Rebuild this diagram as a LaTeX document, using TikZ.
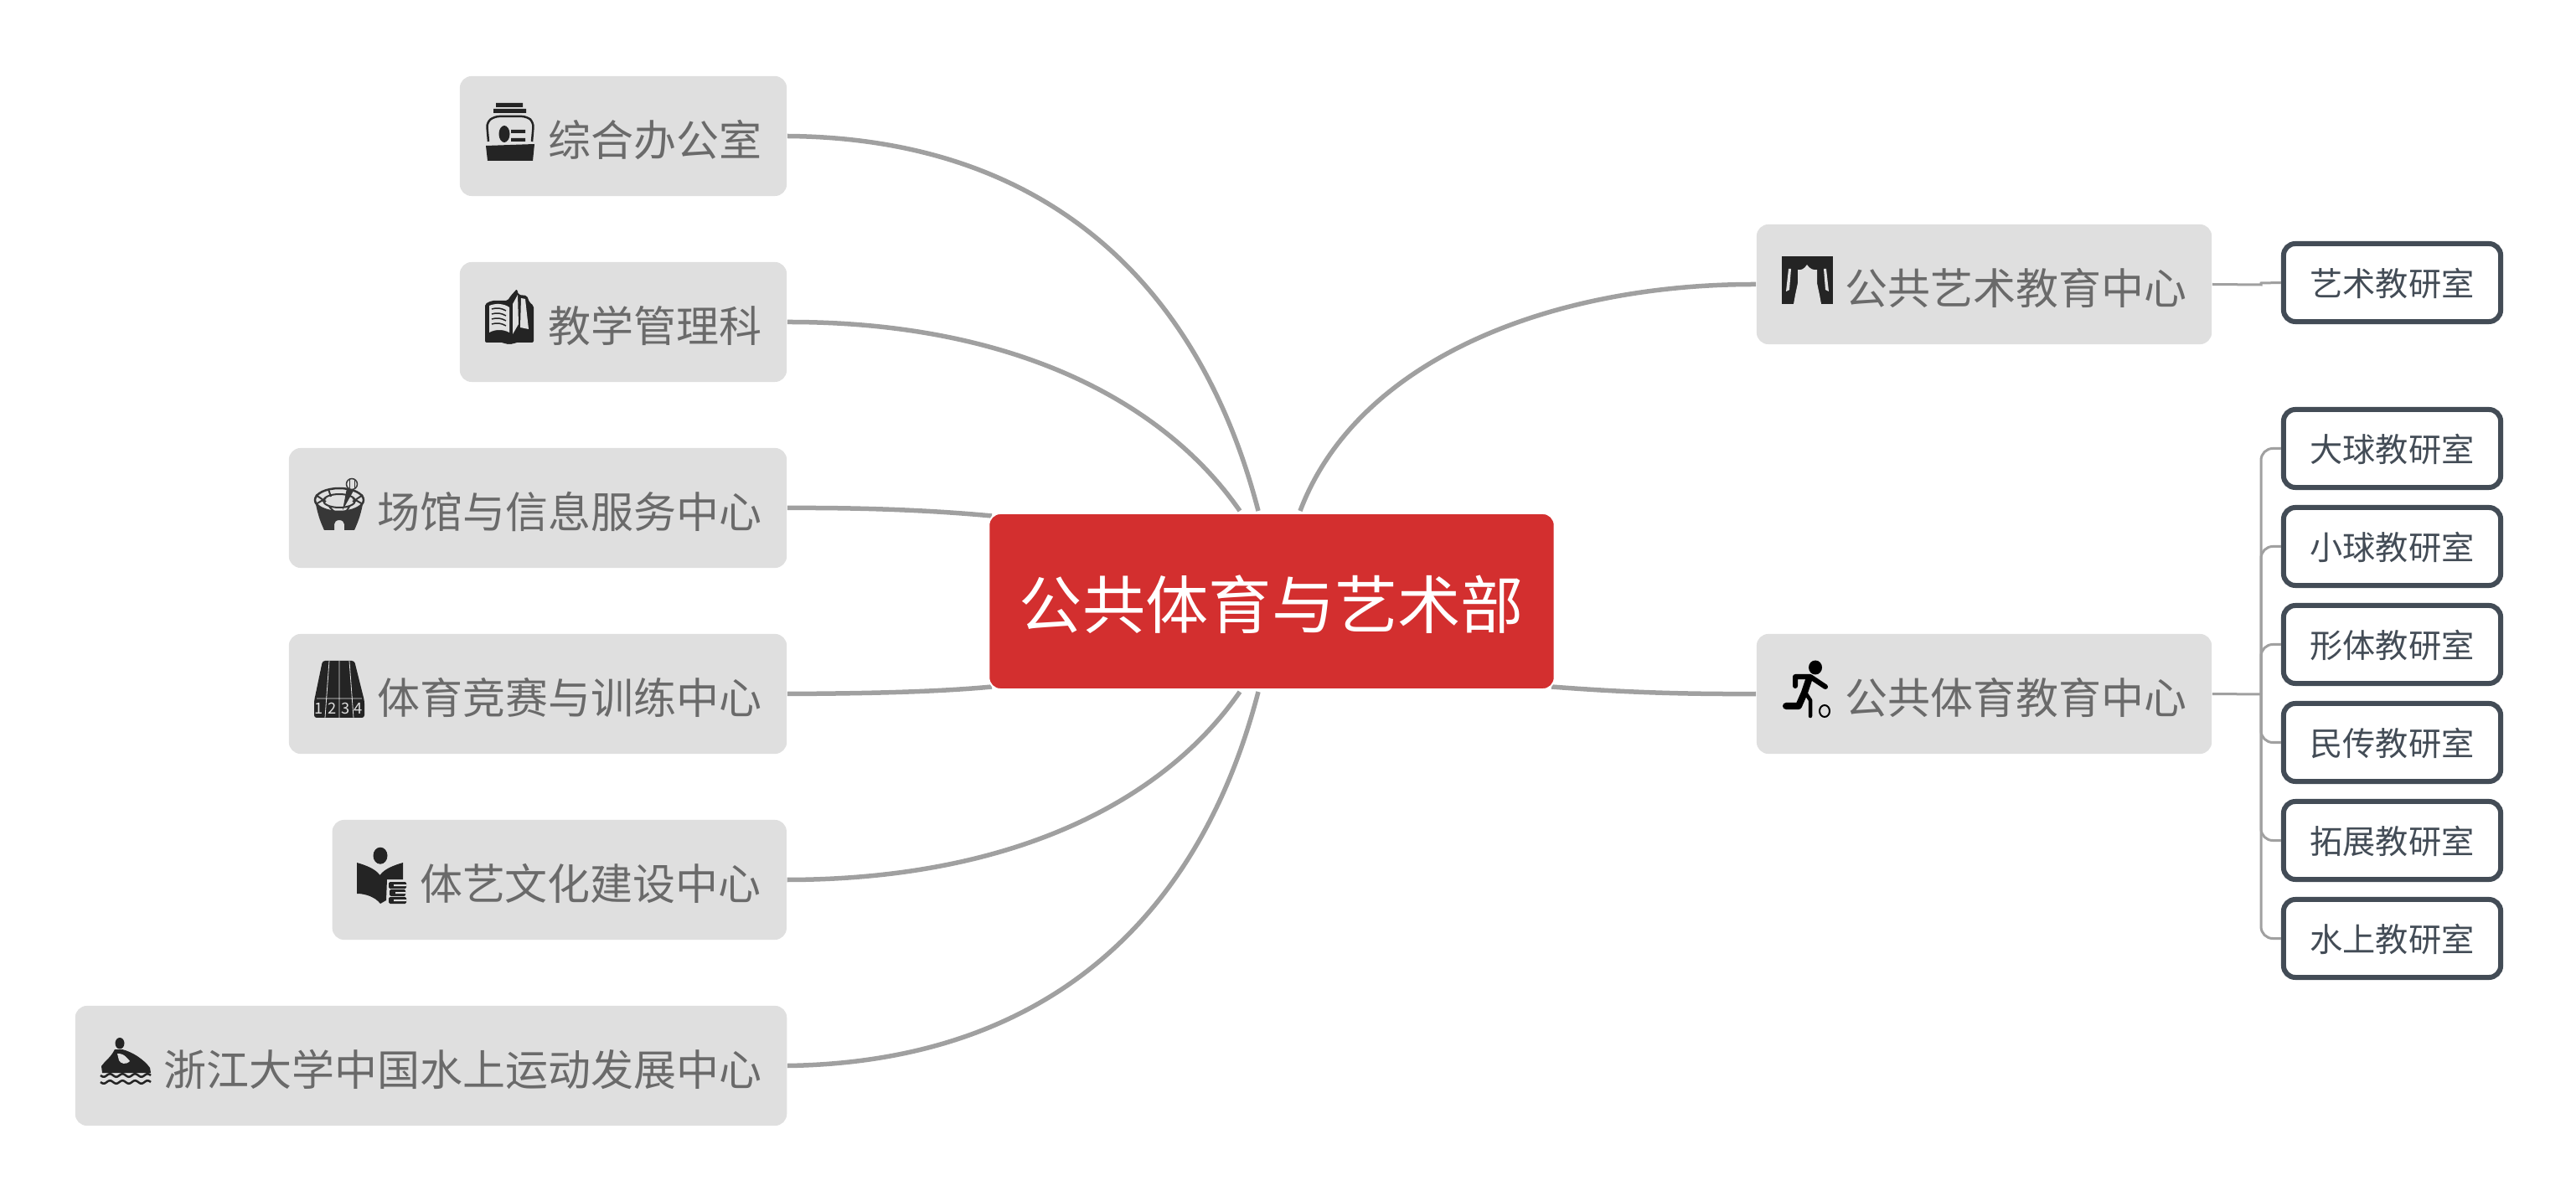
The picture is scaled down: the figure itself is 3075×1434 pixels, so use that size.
\documentclass[tikz,border=0pt]{standalone}
\usepackage{fontspec}
\usepackage{tikz}
\setmainfont{Noto Sans CJK SC}
\definecolor{hubred}{HTML}{D32F2F}
\definecolor{topicgray}{HTML}{DFDFDF}
\definecolor{topictext}{HTML}{6A6A6A}
\definecolor{linkgray}{HTML}{A0A0A0}
\definecolor{roomslate}{HTML}{434C56}
\definecolor{icondark}{HTML}{242424}
\tikzset{
	hub/.style={draw=white,line width=0.02cm,fill=hubred,rounded corners=0.14cm,text=white,
		minimum width=6.75cm,minimum height=2.1cm,inner sep=0pt,text height=0.64cm,text depth=0cm,
		font=\fontsize{21.4pt}{24pt}\selectfont},
	topic/.style={fill=topicgray,rounded corners=0.14cm,text=topictext,text width=#1,align=right,
		inner xsep=0.30cm,inner ysep=0pt,minimum height=1.43cm,text height=0.47cm,text depth=0cm,
		font=\fontsize{14.5pt}{16pt}\selectfont},
	room/.style={draw=roomslate,line width=0.06cm,fill=white,rounded corners=0.14cm,text=roomslate,
		minimum width=2.59cm,minimum height=0.93cm,inner sep=0pt,text height=0.32cm,text depth=0cm,
		font=\fontsize{11.15pt}{13pt}\selectfont},
	link/.style={draw=linkgray,line width=0.055cm},
	twig/.style={draw=linkgray,line width=0.03cm,rounded corners=0.14cm},
	lanenum/.style={text=topicgray,font=\fontsize{5.2pt}{6pt}\selectfont,inner sep=0pt},
	iconoffice/.pic={
		\fill[icondark] (12,0) rectangle (44,5) (9,7) rectangle (48,12);
		\draw[icondark,line width=0.025cm,rounded corners=0.06cm] (3,46) -- (1,23) -- (10,16) -- (49,16) -- (57,23) -- (55,46);
		\fill[icondark] (0,51) -- (58,49) -- (56,69) -- (2,69) -- cycle;
		\fill[icondark] (22,37) ellipse (6.5 and 10);
		\fill[icondark] (30,32) rectangle (47,36) (30,42) rectangle (47,46);
	},
	iconbook/.pic={
		\fill[icondark,rounded corners=0.02cm] (0,18) -- (8,14) -- (27,14) -- (30,9) -- (38,0) -- (40,7) -- (50,8) -- (53,16) -- (58,20) -- (58,64) -- (36,64) -- (33,66) -- (25,66) -- (22,64) -- (0,64) -- cycle;
		\fill[topicgray] (5,20) .. controls (12,17) and (22,17) .. (29,22) -- (29,52) .. controls (22,48) and (12,48) .. (5,52) -- cycle;
		\fill[topicgray] (33,18) -- (39,7) -- (40,42) -- (33,54) -- cycle;
		\fill[topicgray] (43,11) -- (48,12) -- (52,48) -- (42,46) -- cycle;
		\draw[icondark,line width=0.015cm] (8,24) .. controls (14,22) and (20,23) .. (25,26) (8,30) .. controls (14,28) and (20,29) .. (25,32) (8,36) .. controls (14,34) and (20,35) .. (25,38) (8,42) .. controls (14,40) and (20,41) .. (25,44);
		\fill[topicgray] (25,66) arc (180:0:4 and 3.5) -- cycle;
	},
	iconstadium/.pic={
		\fill[icondark!90!topicgray] (2,33) .. controls (5,48) and (8,55) .. (12,64) -- (24,64) -- (24,57) arc (180:360:6 and 5) -- (36,64) -- (48,64) .. controls (52,55) and (55,48) .. (58,33) .. controls (50,44) and (10,44) .. (2,33) -- cycle;
		\draw[icondark!90!topicgray,line width=0.025cm] (30,28) ellipse (29 and 14);
		\draw[icondark!90!topicgray,line width=0.02cm] (30,29) ellipse (19 and 8);
		\draw[icondark!90!topicgray,line width=0.02cm] (2,22) -- (14,30) (58,22) -- (46,30) (17,15) -- (20,24) (46,15) -- (42,24) (2,33) -- (14,26) (58,33) -- (46,26) (18,36) -- (24,42) (42,36) -- (38,42);
		\fill[icondark!90!topicgray] (34,40) -- (39,14) -- (47,17) -- cycle;
		\draw[icondark!90!topicgray,fill=topicgray,line width=0.015cm] (45,9) circle (6.5);
		\draw[icondark!90!topicgray,line width=0.008cm] (42,4) -- (42,14) (48,4) -- (48,14);
	},
	icontrack/.pic={
		\fill[icondark,rounded corners=0.03cm] (10,0) -- (48,0) -- (60,48) -- (60,68) -- (0,68) -- (0,48) -- cycle;
		\draw[topicgray,line width=0.008cm] (18,0) -- (13,68) (30,0) -- (30,68) (42,0) -- (47,68) (3,45) -- (57,45);
		\node[lanenum] (lane1) at (5.5,56.5) {1};
		\node[lanenum] (lane2) at (22,56.5) {2};
		\node[lanenum] (lane3) at (37.5,56.5) {3};
		\node[lanenum] (lane4) at (52.5,56.5) {4};
	},
	iconreader/.pic={
		\fill[icondark] (28,10.7) ellipse (8.5 and 10);
		\fill[icondark] (0,19) .. controls (10,22) and (22,26) .. (27.5,34) .. controls (33,26) and (45,22) .. (55,19) -- (55,39) -- (36,39) -- (35,64) -- (28,68) .. controls (22,60) and (10,56) .. (0,56) -- cycle;
		\fill[icondark,rounded corners=0.015cm] (38,42) rectangle (59,50) (39,51) rectangle (58,59) (38,60) rectangle (59,68);
		\fill[topicgray] (44,45) rectangle (59,47) (46,54) rectangle (58,56) (44,63) rectangle (59,65);
	},
	iconjet/.pic={
		\fill[icondark] (23,6.7) ellipse (5.5 and 6.7);
		\fill[icondark] (17,14) -- (26,14) .. controls (38,17) and (52,26) .. (59,36) -- (60,42) -- (2,42) -- (1,34) .. controls (5,28) and (12,24) .. (17,14) -- cycle;
		\fill[topicgray] (20,19) .. controls (24,19) and (28,19) .. (35,28) .. controls (30,33) and (24,31) .. (22,27) -- cycle;
		\draw[icondark,line width=0.025cm] plot[domain=0:60,samples=40] (\x,{45+1.8*sin(\x*24)});
		\draw[icondark,line width=0.025cm] plot[domain=0:60,samples=40] (\x,{53+1.8*sin(\x*24)});
	},
	iconstage/.pic={
		\fill[icondark] (0,0) rectangle (61,57);
		\fill[topicgray] (14,57) -- (16,46) -- (19,32) -- (19,16) .. controls (23,17) and (27,15) .. (30,10) .. controls (33,15) and (38,17) .. (42,16) -- (42,32) -- (45,46) -- (47,57) -- cycle;
		\fill[topicgray] (8,15) -- (11,15) -- (9,40) -- (5,42) -- cycle;
		\fill[topicgray] (50,15) -- (53,15) -- (56,42) -- (52,40) -- cycle;
	},
	iconrunner/.pic={
		\fill[black] (38,8) ellipse (8 and 8.5);
		\draw[black,line width=0.06cm,line cap=round,line join=round] (14,30) -- (14,19) -- (32,19) -- (50,31);
		\draw[black,line width=0.08cm,line cap=round,line join=round] (31,20) -- (25,38) -- (18,54) -- (3,54);
		\draw[black,line width=0.045cm,line cap=round,line join=round] (26,38) -- (32,47) -- (32,66);
		\draw[black,line width=0.02cm] (49,60) ellipse (6 and 7);
	},
}
\begin{document}
\begin{tikzpicture}[x=0.01cm,y=-0.01cm]
	\useasboundingbox (0,0) rectangle (3075,1434);
	\coordinate (hubnw1) at (1502,610);
	\coordinate (hubnw2) at (1480,610);
	\coordinate (hubne) at (1552,610);
	\coordinate (hubsw1) at (1502,826);
	\coordinate (hubsw2) at (1480,826);
	\coordinate (hubw1) at (1184,616);
	\coordinate (hubw2) at (1184,820);
	\coordinate (hube) at (1852,820);
	\coordinate (trunk) at (2699,829);
	\coordinate (jog) at (2699,340);

	\node[topic=3.30cm] (office) at (744,162.5) {综合办公室};
	\node[topic=3.30cm] (teaching) at (744,384.5) {教学管理科};
	\node[topic=5.34cm] (venue) at (642,606.5) {场馆与信息服务中心};
	\node[topic=5.34cm] (contest) at (642,828.5) {体育竞赛与训练中心};
	\node[topic=4.82cm] (culture) at (667.8,1050.5) {体艺文化建设中心};
	\node[topic=7.89cm] (water) at (514.5,1272.5) {浙江大学中国水上运动发展中心};
	\node[topic=4.83cm] (artcenter) at (2368.5,339.5) {公共艺术教育中心};
	\node[topic=4.83cm] (sportcenter) at (2368.5,828.5) {公共体育教育中心};

	\node[room] (artroom) at (2855.5,337.5) {艺术教研室};
	\node[room] (bigball) at (2855.5,535.5) {大球教研室};
	\node[room] (smallball) at (2855.5,652.5) {小球教研室};
	\node[room] (body) at (2855.5,769.5) {形体教研室};
	\node[room] (folk) at (2855.5,886.5) {民传教研室};
	\node[room] (outward) at (2855.5,1003.5) {拓展教研室};
	\node[room] (aquatic) at (2855.5,1120.5) {水上教研室};

	\draw[link] (office.east) .. controls (1250,165) and (1432,340) .. (hubnw1);
	\draw[link] (teaching.east) .. controls (1210,384) and (1390,480) .. (hubnw2);
	\draw[link] (venue.east) .. controls (1040,606) and (1120,610) .. (hubw1);
	\draw[link] (contest.east) .. controls (1040,828) and (1120,826) .. (hubw2);
	\draw[link] (culture.east) .. controls (1210,1050) and (1390,956) .. (hubsw2);
	\draw[link] (water.east) .. controls (1250,1268) and (1432,1096) .. (hubsw1);
	\draw[link] (artcenter.west) .. controls (1850,339) and (1620,430) .. (hubne);
	\draw[link] (sportcenter.west) .. controls (2000,829) and (1930,826) .. (hube);

	\node[hub] (hub) at (1518,718) {公共体育与艺术部};

	\draw[twig,rounded corners=0pt] (artcenter.east) -- (jog) -- ++(0,-2) -- (artroom.west);
	\draw[twig,rounded corners=0pt] (sportcenter.east) -- (trunk);
	\draw[twig] (trunk) |- (bigball.west);
	\draw[twig] (trunk) |- (smallball.west);
	\draw[twig] (trunk) |- (body.west);
	\draw[twig] (trunk) |- (folk.west);
	\draw[twig] (trunk) |- (outward.west);
	\draw[twig] (trunk) |- (aquatic.west);

	\pic at (580,123) {iconoffice};
	\pic at (579,345) {iconbook};
	\pic at (375,569) {iconstadium};
	\pic at (375,789) {icontrack};
	\pic at (426,1011) {iconreader};
	\pic at (120,1239) {iconjet};
	\pic at (2127,306) {iconstage};
	\pic at (2129,789) {iconrunner};
\end{tikzpicture}
\end{document}
